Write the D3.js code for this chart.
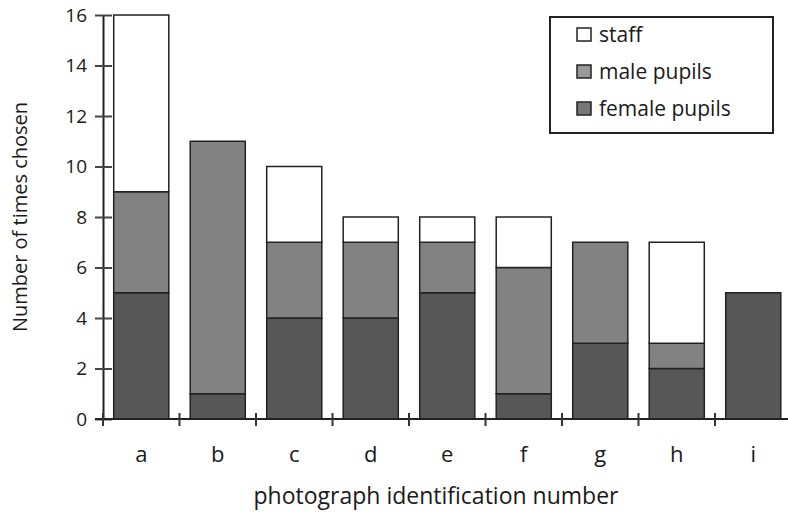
<!DOCTYPE html>
<html>
<head>
<meta charset="utf-8">
<script src="https://cdn.jsdelivr.net/npm/d3@7"></script>
<style>
  body { margin: 0; background: #fff; }
  text { font-family: "Open Sans", "DejaVu Sans", sans-serif; fill: #1a1a1a; }
</style>
</head>
<body>
<div id="container"></div>
<script>
// data
const categories = ["a", "b", "c", "d", "e", "f", "g", "h", "i"]
const femalePupils = [5, 1, 4, 4, 5, 1, 3, 2, 5]
const malePupils = [4, 10, 3, 3, 2, 5, 4, 1, 0]
const staff = [7, 0, 3, 1, 1, 2, 0, 4, 0]
const yTicks = [0, 2, 4, 6, 8, 10, 12, 14, 16]
const seriesNames = ["female pupils", "male pupils", "staff"]
const seriesColors = {"female pupils": "#575757", "male pupils": "#828282", "staff": "#fff"}

const width = 788, height = 512
const margin = {top: 15, right: 0, bottom: 93, left: 103}

const rows = categories.map((c, i) => ({
    cat: c,
    "female pupils": femalePupils[i],
    "male pupils": malePupils[i],
    "staff": staff[i]
}))

const svg = d3.select("#container").append("svg")
              .attr("width", width)
              .attr("height", height)

const chart = svg.append("g")
                 .attr("transform", `translate(${margin.left}, ${margin.top})`)

const innerW = width - margin.left - margin.right
const innerH = height - margin.top - margin.bottom

const xScale = d3.scaleBand()
                 .domain(categories)
                 .range([0, 76.5 * categories.length])
                 .paddingInner(0.28)
                 .paddingOuter(0.14)
const yScale = d3.scaleLinear()
                 .domain([0, 16])
                 .range([innerH, 0])

// stacked bars
const stack = d3.stack().keys(seriesNames)(rows)
chart.selectAll(".layer")
     .data(stack)
     .join("g")
     .attr("class", "layer")
     .attr("fill", d => seriesColors[d.key])
     .selectAll("rect")
     .data(d => d.filter(p => p[1] > p[0]))
     .join("rect")
     .attr("x", d => xScale(d.data.cat))
     .attr("y", d => yScale(d[1]))
     .attr("width", xScale.bandwidth())
     .attr("height", d => yScale(d[0]) - yScale(d[1]))
     .attr("stroke", "#222")
     .attr("stroke-width", 1.5)

// y axis
const yAxis = d3.axisLeft(yScale).tickValues(yTicks).tickSize(0).tickPadding(16)
const yG = chart.append("g").call(yAxis)
yG.select(".domain").attr("stroke", "#222").attr("stroke-width", 2)
yG.selectAll(".tick text").attr("font-size", 19).attr("fill", "#222")
yG.selectAll(".tick").append("line")
  .attr("x1", -8).attr("x2", 9)
  .attr("stroke", "#444").attr("stroke-width", 2)

// x axis: ticks on band boundaries, labels centered
const xG = chart.append("g").attr("transform", `translate(0, ${innerH})`)
xG.append("line")
  .attr("x1", -8).attr("x2", innerW)
  .attr("stroke", "#222").attr("stroke-width", 2)
xG.selectAll(".xtick")
  .data(categories)
  .join("line")
  .attr("class", "xtick")
  .attr("x1", d => xScale(d) - xScale.step() * 0.14)
  .attr("x2", d => xScale(d) - xScale.step() * 0.14)
  .attr("y1", -6).attr("y2", 7)
  .attr("stroke", "#333").attr("stroke-width", 2)
xG.selectAll(".xlabel")
  .data(categories)
  .join("text")
  .attr("class", "xlabel")
  .attr("x", d => xScale(d) + xScale.bandwidth() / 2)
  .attr("y", 43)
  .attr("text-anchor", "middle")
  .attr("font-size", 22)
  .text(d => d)

// axis titles
svg.append("text")
   .attr("x", 436)
   .attr("y", 504)
   .attr("text-anchor", "middle")
   .attr("font-size", 23)
   .text("photograph identification number")
svg.append("text")
   .attr("transform", `translate(27, ${margin.top + innerH / 2}) rotate(-90)`)
   .attr("text-anchor", "middle")
   .attr("font-size", 20)
   .text("Number of times chosen")

// legend
const legend = svg.append("g").attr("transform", "translate(550, 17)")
legend.append("rect")
      .attr("width", 223).attr("height", 116)
      .attr("fill", "#fff").attr("stroke", "#222").attr("stroke-width", 2)
const legendItems = ["staff", "male pupils", "female pupils"]
legend.selectAll(".item")
      .data(legendItems)
      .join("g")
      .attr("class", "item")
      .attr("transform", (d, i) => `translate(27, ${18 + i * 37})`)
      .call(g => {
          g.append("rect")
           .attr("x", 0).attr("y", -7)
           .attr("width", 14).attr("height", 13)
           .attr("fill", d => d === "staff" ? "#fff" : (d === "male pupils" ? "#999" : "#777"))
           .attr("stroke", "#222").attr("stroke-width", 1.5)
          g.append("text")
           .attr("x", 22).attr("y", 0)
           .attr("dy", "0.35em")
           .attr("font-size", 21)
           .text(d => d)
      })
</script>
</body>
</html>
